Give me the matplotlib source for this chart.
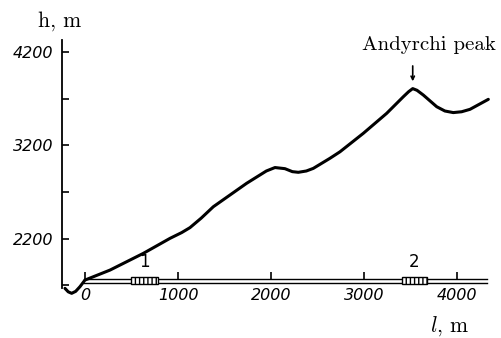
import matplotlib
matplotlib.use('Agg')
import matplotlib.pyplot as plt
from matplotlib.patches import Rectangle

plt.rcParams['mathtext.fontset'] = 'cm'

# profile of the route (distance l, m ; height h, m)
dist = [-215, -180, -143, -100, -54, 0, 269, 627, 914, 1040, 1129, 1250, 1380, 1738,
        1950, 2043, 2150, 2230, 2294, 2380, 2455, 2634, 2742, 2993, 3244, 3423,
        3480, 3524, 3570, 3638, 3782, 3870, 3960, 4050, 4140, 4337]
height = [1667, 1630, 1614, 1635, 1685, 1756, 1863, 2042, 2203, 2265, 2318, 2420, 2542,
          2793, 2925, 2962, 2950, 2918, 2911, 2925, 2953, 3061, 3131, 3329, 3543, 3721,
          3775, 3808, 3790, 3739, 3614, 3568, 3551, 3560, 3586, 3693]

x_ticks = [0, 1000, 2000, 3000, 4000]
y_ticks = [1700, 2200, 2700, 3200, 3700, 4200]
y_labels = ['', '2200', '', '3200', '', '4200']

# hatched sections on the axis
sections = [(495, 785, '1'), (3409, 3677, '2')]
peak = (3524, 3811)

fig = plt.figure(figsize=(5.02, 3.38), dpi=100)
ax = fig.add_axes([62 / 502, 1 - 288 / 338, 440 / 502, 248 / 338])
ax.set_xlim(-247, 4484)
ax.set_ylim(1671, 4329)

for s in ['top', 'right', 'bottom']:
    ax.spines[s].set_visible(False)
ax.spines['left'].set_linewidth(1.3)

ax.set_xticks([])
ax.set_yticks(y_ticks)
ax.set_yticklabels(y_labels, fontsize=11.5, style='oblique')
ax.tick_params(axis='y', direction='in', length=5, width=1.2, pad=6)

# double line of the horizontal axis
ax.plot([-10, 4323], [1767, 1767], color='k', lw=1.0, clip_on=False)
ax.plot([-10, 4323], [1724, 1724], color='k', lw=1.0, clip_on=False)
ax.vlines(x_ticks, 1767, 1845, color='k', lw=1.2)
for xt in x_ticks:
    ax.text(xt, 1590, str(xt), ha='center', va='center', fontsize=11.5,
            style='oblique', clip_on=False)

for x0, x1, lab in sections:
    ax.add_patch(Rectangle((x0, 1713), x1 - x0, 75, facecolor='white',
                           edgecolor='k', hatch='||||', lw=1.0, zorder=3))
    ax.text((x0 + x1) / 2, 1955, lab, ha='center', va='center', fontsize=12)

ax.plot(dist, height, color='k', lw=2.2, solid_joinstyle='round',
        solid_capstyle='round', clip_on=False, zorder=4)

ax.annotate('', xy=(peak[0], peak[1] + 75), xytext=(peak[0], peak[1] + 240),
            arrowprops=dict(arrowstyle='->', color='k', lw=1.2, mutation_scale=6,
                            shrinkA=0, shrinkB=0))
ax.text(3695, 4272, 'Andyrchi peak', ha='center', va='center', fontsize=15,
        family='cmr10', clip_on=False)

fig.text(60 / 502, 1 - 21 / 338, 'h, m', ha='center', va='center',
         fontsize=15.5, family='cmr10')
fig.text(450 / 502, 1 - 326 / 338, r'$l$, m', ha='center', va='center',
         fontsize=15.5, family='cmr10')

fig.savefig('out.png', dpi=100)
